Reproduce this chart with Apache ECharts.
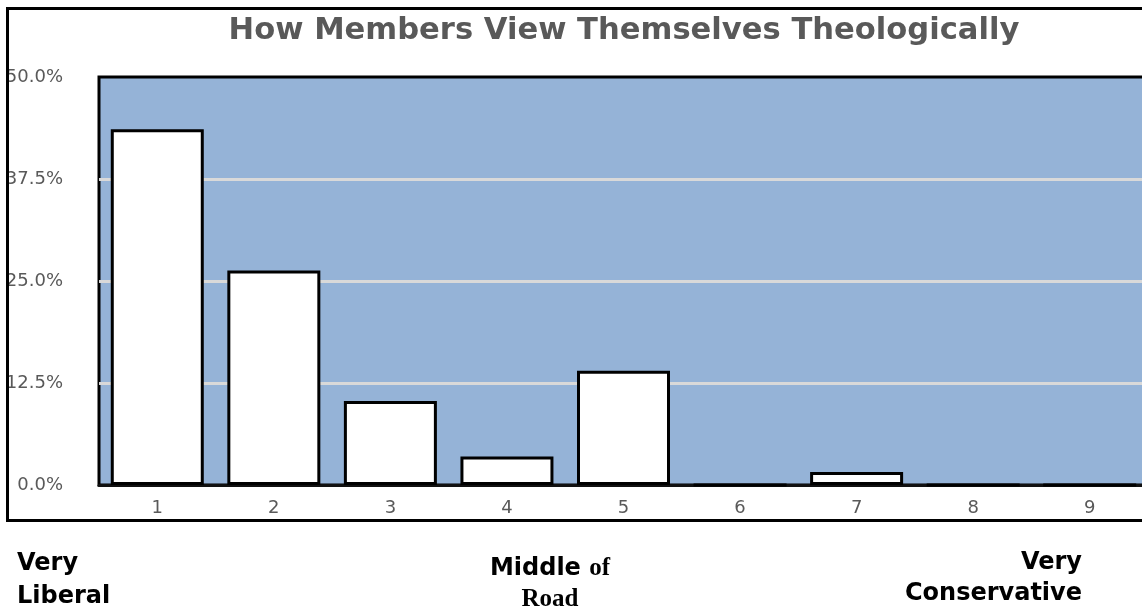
<!DOCTYPE html>
<html>
<head>
<meta charset="utf-8">
<script src="https://cdn.jsdelivr.net/npm/echarts@6/dist/echarts.min.js"></script>
<style>
  html, body { margin: 0; padding: 0; background: #ffffff; overflow: hidden; }
  #chart { width: 1170px; height: 611px; }
</style>
</head>
<body>
<div id="chart"></div>
<script>
// Theological self-placement on a 1 (very liberal) to 9 (very conservative) scale
const categories = ['1', '2', '3', '4', '5', '6', '7', '8', '9'];
const shares = [43.6, 26.3, 10.3, 3.5, 14.0, 0, 1.6, 0, 0];
const yMin = 0;
const yMax = 50;
const yStep = 12.5;
const titleText = 'How Members View Themselves Theologically';

const chart = echarts.init(document.getElementById('chart'), null, { renderer: 'canvas' });

const sans = 'DejaVu Sans';

chart.setOption({
  animation: false,
  backgroundColor: '#ffffff',
  grid: {
    left: 99,
    top: 77,
    width: 1049,
    height: 408,
    show: true,
    backgroundColor: '#95B3D7',
    borderColor: '#000000',
    borderWidth: 3,
    containLabel: false
  },
  xAxis: {
    type: 'category',
    data: categories,
    axisLine: { show: true, lineStyle: { color: '#111111', width: 3 } },
    axisTick: { show: false },
    axisLabel: { color: '#595959', fontSize: 18, fontFamily: sans, margin: 14 },
    splitLine: { show: false }
  },
  yAxis: {
    type: 'value',
    min: yMin,
    max: yMax,
    interval: yStep,
    axisLine: { show: false },
    axisTick: { show: false },
    axisLabel: {
      color: '#595959', fontSize: 18, fontFamily: sans, margin: 36,
      formatter: v => v.toFixed(1) + '%'
    },
    splitLine: {
      show: true, showMinLine: false, showMaxLine: false,
      lineStyle: { color: '#D9D9D9', width: 3 }
    }
  },
  series: [{
    type: 'bar',
    data: shares,
    barWidth: 93,
    itemStyle: { color: '#ffffff', borderColor: '#000000', borderWidth: 3 }
  }],
  graphic: [
    // white margin that trims the leftmost tick text, then the outer frame
    { type: 'rect', z: 100, shape: { x: 0, y: 0, width: 6, height: 611 }, style: { fill: '#ffffff' } },
    { type: 'rect', z: 101, shape: { x: 7.5, y: 8.5, width: 1200, height: 512 },
      style: { fill: null, stroke: '#000000', lineWidth: 3 } },
    { type: 'text', z: 102, x: 624, y: 31,
      style: { text: titleText, fontFamily: sans, fontWeight: 'bold', fontSize: 30.6,
               fill: '#595959', align: 'center', verticalAlign: 'middle' } },
    { type: 'text', z: 102, x: 17, y: 580,
      style: { text: 'Very\nLiberal', fontFamily: sans, fontWeight: 'bold', fontSize: 24,
               lineHeight: 33, fill: '#000000', align: 'left', verticalAlign: 'middle' } },
    { type: 'text', z: 102, x: 550, y: 584,
      style: {
        text: '{s|Middle }{r|of}\n{r|Road}',
        align: 'center', verticalAlign: 'middle', fill: '#000000',
        rich: {
          s: { fontFamily: sans, fontWeight: 'bold', fontSize: 24, lineHeight: 31, fill: '#000000' },
          r: { fontFamily: 'Liberation Serif', fontWeight: 'bold', fontSize: 25, lineHeight: 31, fill: '#000000' }
        }
      } },
    { type: 'text', z: 102, x: 1082, y: 578,
      style: { text: 'Very\nConservative', fontFamily: sans, fontWeight: 'bold', fontSize: 24,
               lineHeight: 31, fill: '#000000', align: 'right', verticalAlign: 'middle' } }
  ]
});
</script>
</body>
</html>
